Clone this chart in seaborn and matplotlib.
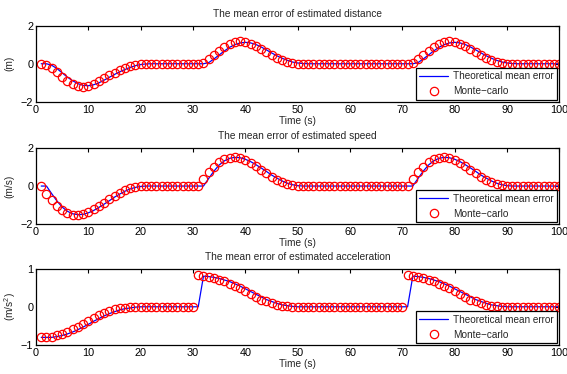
import matplotlib as mpl

mpl.use('Agg')
import numpy as np
import matplotlib.pyplot as plt
from matplotlib import font_manager as fm
import seaborn as sns

# time axis (s)
time = np.arange(1, 101)

# mean error of estimated distance (m)
dist_theory = [
    0.0, 0.0, -0.08, -0.25, -0.48, -0.70, -0.89, -1.04, -1.13, -1.15,
    -1.10, -1.00, -0.86, -0.71, -0.56, -0.42, -0.30, -0.19, -0.10, -0.04,
    -0.01, 0.0, 0.0, 0.0, 0.0, 0.0, 0.0, 0.0, 0.0, 0.0,
    0.0, 0.0, 0.06, 0.25, 0.46, 0.67, 0.86, 1.00, 1.09, 1.12,
    1.09, 1.01, 0.88, 0.73, 0.57, 0.42, 0.29, 0.18, 0.09, 0.04,
    0.01, 0.0, 0.0, 0.0, 0.0, 0.0, 0.0, 0.0, 0.0, 0.0,
    0.0, 0.0, 0.0, 0.0, 0.0, 0.0, 0.0, 0.0, 0.0, 0.0,
    0.0, 0.0, 0.06, 0.25, 0.46, 0.67, 0.86, 1.00, 1.09, 1.12,
    1.09, 1.01, 0.88, 0.73, 0.57, 0.42, 0.29, 0.18, 0.09, 0.04,
    0.01, 0.0, 0.0, 0.0, 0.0, 0.0, 0.0, 0.0, 0.0, 0.0,
]
dist_mc = [
    0.0, -0.07, -0.22, -0.45, -0.68, -0.88, -1.04, -1.15, -1.20, -1.15,
    -1.04, -0.90, -0.76, -0.61, -0.47, -0.35, -0.23, -0.13, -0.06, -0.02,
    0.0, 0.0, 0.0, 0.0, 0.0, 0.0, 0.0, 0.0, 0.0, -0.01,
    -0.03, 0.05, 0.24, 0.44, 0.65, 0.86, 1.01, 1.12, 1.17, 1.13,
    1.05, 0.92, 0.77, 0.61, 0.45, 0.31, 0.19, 0.10, 0.05, 0.0,
    0.0, 0.0, 0.0, 0.0, 0.0, 0.0, 0.0, 0.0, 0.0, 0.0,
    0.0, 0.0, 0.0, 0.0, 0.0, 0.0, 0.0, 0.0, 0.0, 0.0,
    -0.02, 0.05, 0.24, 0.44, 0.65, 0.86, 1.01, 1.12, 1.17, 1.13,
    1.05, 0.92, 0.77, 0.61, 0.45, 0.31, 0.19, 0.10, 0.05, 0.01,
    0.0, 0.0, 0.0, 0.0, 0.0, 0.0, 0.0, 0.0, 0.0, 0.0,
]

# mean error of estimated speed (m/s)
speed_theory = [
    0.0, 0.0, -0.40, -0.78, -1.10, -1.32, -1.45, -1.50, -1.48, -1.40,
    -1.28, -1.12, -0.95, -0.77, -0.58, -0.42, -0.27, -0.15, -0.07, -0.02,
    0.0, 0.0, 0.0, 0.0, 0.0, 0.0, 0.0, 0.0, 0.0, 0.0,
    0.0, 0.0, 0.40, 0.78, 1.10, 1.32, 1.45, 1.50, 1.48, 1.40,
    1.28, 1.12, 0.95, 0.77, 0.58, 0.42, 0.27, 0.15, 0.07, 0.02,
    0.0, 0.0, 0.0, 0.0, 0.0, 0.0, 0.0, 0.0, 0.0, 0.0,
    0.0, 0.0, 0.0, 0.0, 0.0, 0.0, 0.0, 0.0, 0.0, 0.0,
    0.0, 0.0, 0.40, 0.78, 1.10, 1.32, 1.45, 1.50, 1.48, 1.40,
    1.28, 1.12, 0.95, 0.77, 0.58, 0.42, 0.27, 0.15, 0.07, 0.02,
    0.0, 0.0, 0.0, 0.0, 0.0, 0.0, 0.0, 0.0, 0.0, 0.0,
]
speed_mc = [
    0.0, -0.42, -0.74, -1.03, -1.26, -1.42, -1.50, -1.52, -1.47, -1.37,
    -1.21, -1.05, -0.88, -0.68, -0.50, -0.35, -0.21, -0.10, -0.04, 0.0,
    0.0, 0.0, 0.0, 0.0, 0.0, 0.0, 0.0, 0.0, 0.0, 0.0,
    0.0, 0.39, 0.72, 1.02, 1.25, 1.40, 1.49, 1.51, 1.46, 1.35,
    1.21, 1.04, 0.86, 0.67, 0.49, 0.33, 0.19, 0.10, 0.04, 0.0,
    0.0, 0.0, 0.0, 0.0, 0.0, 0.0, 0.0, 0.0, 0.0, 0.0,
    0.0, 0.0, 0.0, 0.0, 0.0, 0.0, 0.0, 0.0, 0.0, 0.0,
    0.0, 0.39, 0.72, 1.02, 1.25, 1.40, 1.49, 1.51, 1.46, 1.35,
    1.21, 1.04, 0.86, 0.67, 0.49, 0.33, 0.19, 0.10, 0.04, 0.0,
    0.0, 0.0, 0.0, 0.0, 0.0, 0.0, 0.0, 0.0, 0.0, 0.0,
]

# mean error of estimated acceleration (m/s^2)
acc_theory = [
    -0.80, -0.80, -0.80, -0.78, -0.75, -0.71, -0.66, -0.60, -0.53, -0.46,
    -0.38, -0.31, -0.24, -0.18, -0.13, -0.08, -0.05, -0.03, -0.01, 0.0,
    0.0, 0.0, 0.0, 0.0, 0.0, 0.0, 0.0, 0.0, 0.0, 0.0,
    0.0, 0.80, 0.79, 0.77, 0.74, 0.70, 0.66, 0.60, 0.54, 0.47,
    0.40, 0.33, 0.26, 0.19, 0.14, 0.09, 0.05, 0.03, 0.01, 0.0,
    0.0, 0.0, 0.0, 0.0, 0.0, 0.0, 0.0, 0.0, 0.0, 0.0,
    0.0, 0.0, 0.0, 0.0, 0.0, 0.0, 0.0, 0.0, 0.0, 0.0,
    0.0, 0.80, 0.79, 0.77, 0.74, 0.70, 0.66, 0.60, 0.54, 0.47,
    0.40, 0.33, 0.26, 0.19, 0.14, 0.09, 0.05, 0.03, 0.01, 0.0,
    0.0, 0.0, 0.0, 0.0, 0.0, 0.0, 0.0, 0.0, 0.0, 0.0,
]
acc_mc = [
    -0.80, -0.80, -0.78, -0.75, -0.70, -0.65, -0.59, -0.52, -0.44, -0.36,
    -0.29, -0.22, -0.16, -0.11, -0.06, -0.04, -0.02, -0.01, 0.0, 0.0,
    0.0, 0.0, 0.0, 0.0, 0.0, 0.0, 0.0, 0.0, 0.0, 0.0,
    0.82, 0.80, 0.77, 0.75, 0.71, 0.67, 0.60, 0.55, 0.48, 0.41,
    0.34, 0.26, 0.19, 0.14, 0.09, 0.05, 0.02, 0.01, 0.0, 0.0,
    0.0, 0.0, 0.0, 0.0, 0.0, 0.0, 0.0, 0.0, 0.0, 0.0,
    0.0, 0.0, 0.0, 0.0, 0.0, 0.0, 0.0, 0.0, 0.0, 0.0,
    0.82, 0.80, 0.77, 0.75, 0.71, 0.67, 0.60, 0.55, 0.48, 0.41,
    0.34, 0.26, 0.19, 0.14, 0.09, 0.05, 0.02, 0.01, 0.0, 0.0,
    0.0, 0.0, 0.0, 0.0, 0.0, 0.0, 0.0, 0.0, 0.0, 0.0,
]

titles = ['The mean error of estimated distance',
          'The mean error of estimated speed',
          'The mean error of estimated acceleration']
ylabels = ['(m)', '(m/s)', '(m/s$^2$)']
ylims = [(-2, 2), (-2, 2), (-1, 1)]
yticks = [[-2, 0, 2], [-2, 0, 2], [-1, 0, 1]]
theory = [dist_theory, speed_theory, acc_theory]
mc = [dist_mc, speed_mc, acc_mc]

# keep the regular width Liberation Sans, not the narrow cut
fm.fontManager.ttflist = [f for f in fm.fontManager.ttflist
                          if 'Narrow' not in f.fname]

sns.set_style('white')
plt.rcParams['font.family'] = ['Liberation Sans', 'DejaVu Sans']
plt.rcParams['mathtext.fontset'] = 'custom'
plt.rcParams['mathtext.rm'] = 'Liberation Sans'
plt.rcParams['mathtext.it'] = 'Liberation Sans'
plt.rcParams['axes.unicode_minus'] = True

fig = plt.figure(figsize=(5.67, 3.74), dpi=100)
bottoms = [0.7273, 0.4003, 0.0775]
label_x = [-0.041, -0.041, -0.034]

for i in range(3):
    ax = fig.add_axes([0.0635, bottoms[i], 0.923, 0.2045])
    sns.lineplot(x=time, y=theory[i], ax=ax, color='blue', linewidth=0.9,
                 label='Theoretical mean error')
    sns.lineplot(x=time, y=mc[i], ax=ax, color='red', linestyle='',
                 marker='o', markersize=6, markerfacecolor='none',
                 markeredgecolor='red', markeredgewidth=0.9,
                 label='Monte\u2212carlo')
    ax.set_xlim(0, 100)
    ax.set_ylim(*ylims[i])
    ax.set_xticks(range(0, 101, 10))
    ax.set_yticks(yticks[i])
    ax.tick_params(direction='in', length=3, width=0.8, labelsize=7.8,
                   pad=2, top=True, right=True, colors='black')
    for s in ax.spines.values():
        s.set_color('black')
        s.set_linewidth(0.9)
    ax.set_title(titles[i], fontsize=7.3, pad=6)
    ax.set_xlabel('Time (s)', fontsize=7.3, labelpad=1)
    ax.set_ylabel(ylabels[i], fontsize=7.3)
    ax.yaxis.set_label_coords(label_x[i], 0.5)
    leg = ax.legend(loc='lower right', fontsize=7.2, frameon=True,
                    fancybox=False, framealpha=1, edgecolor='black',
                    borderaxespad=0.2, handlelength=2.9, borderpad=0.35,
                    labelspacing=0.5, handletextpad=0.5)
    leg.get_frame().set_linewidth(0.9)

plt.savefig('out.png', dpi=100)
